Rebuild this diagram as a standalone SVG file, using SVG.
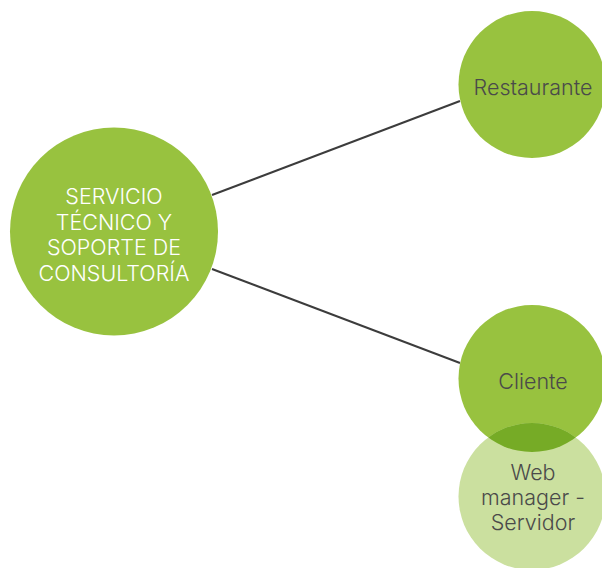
<svg xmlns="http://www.w3.org/2000/svg" width="602" height="568" viewBox="0 0 602 568">
<style>
.lbl{font-family:Inter,"Liberation Sans",sans-serif;font-size:21.5px;font-weight:300;text-anchor:middle}
.w{fill:#ffffff}
.d{fill:#4a4a4a}
.edge{stroke:#3c3c3c;stroke-width:2;fill:none}
</style>
<defs>
<clipPath id="cl"><circle cx="532" cy="378.5" r="73.5"/></clipPath>
</defs>
<rect width="602" height="568" fill="#ffffff"/>
<g id="connectors">
<line class="edge" x1="212" y1="195" x2="460" y2="101"/>
<line class="edge" x1="212" y1="269" x2="460" y2="363"/>
</g>
<g id="node-main">
<circle cx="114" cy="231.5" r="104" fill="#98c23f"/>
<text class="lbl w" x="114" y="204">SERVICIO</text>
<text class="lbl w" x="114" y="229.5">TÉCNICO Y</text>
<text class="lbl w" x="114" y="255">SOPORTE DE</text>
<text class="lbl w" x="114" y="280.5">CONSULTORÍA</text>
</g>
<g id="node-restaurante">
<circle cx="532" cy="84.5" r="73.5" fill="#98c23f"/>
<text class="lbl d" x="533" y="95">Restaurante</text>
</g>
<g id="node-cliente">
<circle cx="532" cy="378.5" r="73.5" fill="#98c23f"/>
<text class="lbl d" x="533" y="389">Cliente</text>
</g>
<g id="node-web">
<circle cx="532" cy="496.5" r="73.5" fill="#cbe09f"/>
<circle cx="532" cy="496.5" r="73.5" fill="#76ab26" clip-path="url(#cl)"/>
<text class="lbl d" x="533" y="480">Web</text>
<text class="lbl d" x="533" y="505">manager -</text>
<text class="lbl d" x="533" y="530">Servidor</text>
</g>
</svg>
